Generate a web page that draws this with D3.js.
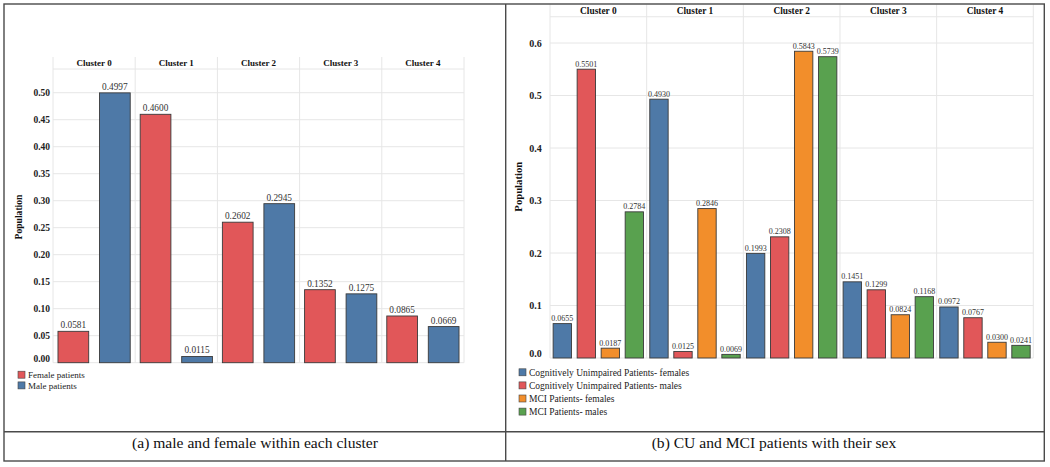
<!DOCTYPE html>
<html>
<head>
<meta charset="utf-8">
<script src="https://cdn.jsdelivr.net/npm/d3@7/dist/d3.min.js"></script>
<style>
  html, body { margin: 0; padding: 0; background: #fff; }
  svg { display: block; }
  text { font-family: "Liberation Serif", "Times New Roman", serif; }
</style>
</head>
<body>
<svg id="chart" width="1050" height="467"></svg>
<script>
// ---- Data ----
const clusters = ["Cluster 0", "Cluster 1", "Cluster 2", "Cluster 3", "Cluster 4"];

const leftSeries = ["Female patients", "Male patients"];
const femalePatients = [0.0581, 0.4600, 0.2602, 0.1352, 0.0865];
const malePatients   = [0.4997, 0.0115, 0.2945, 0.1275, 0.0669];
const leftTicks = [0, 0.05, 0.10, 0.15, 0.20, 0.25, 0.30, 0.35, 0.40, 0.45, 0.50];

const rightSeries = [
  "Cognitively Unimpaired Patients- females",
  "Cognitively Unimpaired Patients- males",
  "MCI Patients- females",
  "MCI Patients- males"
];
const cuFemales  = [0.0655, 0.4930, 0.1993, 0.1451, 0.0972];
const cuMales    = [0.5501, 0.0125, 0.2308, 0.1299, 0.0767];
const mciFemales = [0.0187, 0.2846, 0.5843, 0.0824, 0.0300];
const mciMales   = [0.2784, 0.0069, 0.5739, 0.1168, 0.0241];
const rightTicks = [0, 0.1, 0.2, 0.3, 0.4, 0.5, 0.6];

const captions = ["(a) male and female within each cluster", "(b) CU and MCI patients with their sex"];

// ---- Styles ----
const BLUE = "#4e79a7", RED = "#e15759", ORANGE = "#f28e2b", GREEN = "#59a14f";
const GRID = "#e6e6e6";

const svg = d3.select("#chart");
svg.append("rect").attr("width", 1050).attr("height", 467).attr("fill", "#fff");

function panel(cfg) {
  const g = svg.append("g");
  const x0 = d3.scaleBand().domain(clusters).range([cfg.x0, cfg.x1]).padding(0);
  const x1 = d3.scaleBand().domain(cfg.series).range([0, x0.bandwidth()])
    .paddingInner(cfg.pIn).paddingOuter(cfg.pOut);
  const y = d3.scaleLinear().domain([0, cfg.yMax]).range([cfg.base, cfg.headLine]);
  const color = d3.scaleOrdinal().domain(cfg.series).range(cfg.colors);

  // horizontal gridlines
  g.append("g").selectAll("line").data(cfg.ticks).join("line")
    .attr("x1", cfg.x0).attr("x2", cfg.x1)
    .attr("y1", d => y(d)).attr("y2", d => y(d))
    .attr("stroke", GRID).attr("stroke-width", 1);

  // header bottom line
  g.append("line").attr("x1", cfg.x0).attr("x2", cfg.x1)
    .attr("y1", cfg.headLine).attr("y2", cfg.headLine)
    .attr("stroke", GRID).attr("stroke-width", 1);

  // vertical cluster separators
  const seps = clusters.map(c => x0(c)).concat([cfg.x1]);
  g.append("g").selectAll("line").data(seps).join("line")
    .attr("x1", d => d).attr("x2", d => d)
    .attr("y1", cfg.headTop).attr("y2", cfg.base)
    .attr("stroke", GRID).attr("stroke-width", 1);

  // header labels
  g.append("g").selectAll("text").data(clusters).join("text")
    .attr("x", d => x0(d) + x0.bandwidth() / 2)
    .attr("y", cfg.headText)
    .attr("text-anchor", "middle")
    .attr("font-weight", "bold")
    .attr("font-size", cfg.headSize)
    .attr("fill", "#111")
    .text(d => d);

  // y axis
  const axis = d3.axisLeft(y).tickValues(cfg.ticks).tickSize(0)
    .tickPadding(cfg.tickPad).tickFormat(d3.format(cfg.tickFmt));
  const ag = g.append("g").attr("transform", `translate(${cfg.x0},0)`).call(axis);
  ag.select(".domain").remove();
  ag.selectAll("text")
    .attr("font-family", "Liberation Serif, Times New Roman, serif")
    .attr("font-weight", "bold")
    .attr("font-size", cfg.tickSize)
    .attr("fill", "#222")
    .attr("dy", d => d === 0 ? cfg.zeroDy : "0.32em");

  // y axis title
  g.append("text")
    .attr("transform", `translate(${cfg.titleX},${cfg.titleY}) rotate(-90)`)
    .attr("text-anchor", "middle")
    .attr("font-weight", "bold")
    .attr("font-size", cfg.titleSize)
    .attr("fill", "#111")
    .text("Population");

  // bars
  const rows = [];
  clusters.forEach((c, i) => {
    cfg.series.forEach((s, j) => rows.push({ c, s, v: cfg.values[j][i] }));
  });
  g.append("g").selectAll("rect").data(rows).join("rect")
    .attr("x", d => x0(d.c) + x1(d.s))
    .attr("y", d => y(d.v))
    .attr("width", x1.bandwidth())
    .attr("height", d => y(0) - y(d.v))
    .attr("fill", d => color(d.s))
    .attr("stroke", "#3a3a3a")
    .attr("stroke-width", 0.9);

  g.append("g").selectAll("text").data(rows).join("text")
    .attr("x", d => x0(d.c) + x1(d.s) + x1.bandwidth() / 2)
    .attr("y", d => y(d.v) - cfg.valGap)
    .attr("text-anchor", "middle")
    .attr("font-size", cfg.valSize)
    .attr("fill", "#333")
    .text(d => d3.format(".4f")(d.v));

  // legend
  const lg = g.append("g");
  cfg.series.forEach((s, j) => {
    const cy = cfg.legY + j * cfg.legStep;
    lg.append("rect").attr("x", cfg.legX).attr("y", cy - 3.5)
      .attr("width", 7).attr("height", 7)
      .attr("fill", color(s)).attr("stroke", "#444").attr("stroke-width", 0.6);
    lg.append("text").attr("x", cfg.legX + 10).attr("y", cy).attr("dy", "0.35em")
      .attr("font-size", cfg.legSize).attr("fill", "#222").text(s);
  });

  // caption
  g.append("text").attr("x", cfg.capX).attr("y", 447.5)
    .attr("text-anchor", "middle").attr("font-size", 15.6).attr("fill", "#111")
    .text(cfg.caption);
}

panel({
  series: leftSeries, values: [femalePatients, malePatients], colors: [RED, BLUE],
  x0: 53, x1: 464, pIn: 0.26, pOut: 0.12,
  yMax: 0.5439, base: 362.7, headLine: 69, headTop: 57, headText: 66.2, headSize: 9,
  ticks: leftTicks, tickFmt: ".2f", tickPad: 3, tickSize: 9.5, zeroDy: "-0.14em",
  titleX: 22, titleY: 217, titleSize: 9.6,
  valSize: 9.3, valGap: 3,
  legX: 18, legY: 374.7, legStep: 10.7, legSize: 9,
  caption: captions[0], capX: 255
});

panel({
  series: rightSeries, values: [cuFemales, cuMales, mciFemales, mciMales],
  colors: [BLUE, RED, ORANGE, GREEN],
  x0: 550, x1: 1033.3, pIn: 0.235, pOut: 0.13,
  yMax: 0.65, base: 358, headLine: 16.75, headTop: 4.5, headText: 14, headSize: 9.4,
  ticks: rightTicks, tickFmt: ".1f", tickPad: 8.3, tickSize: 10, zeroDy: "-0.2em",
  titleX: 521.7, titleY: 186.7, titleSize: 10.7,
  valSize: 8, valGap: 2.5,
  legX: 519, legY: 372.3, legStep: 13.1, legSize: 9.5,
  caption: captions[1], capX: 774
});

// frame
const frame = svg.append("g").attr("fill", "none").attr("stroke", "#4a4a4a").attr("stroke-width", 1.4);
frame.append("rect").attr("x", 4).attr("y", 4).attr("width", 1040.3).attr("height", 457);
frame.append("line").attr("x1", 505.7).attr("x2", 505.7).attr("y1", 4).attr("y2", 461);
frame.append("line").attr("x1", 4).attr("x2", 1044.3).attr("y1", 431.7).attr("y2", 431.7);
</script>
</body>
</html>
